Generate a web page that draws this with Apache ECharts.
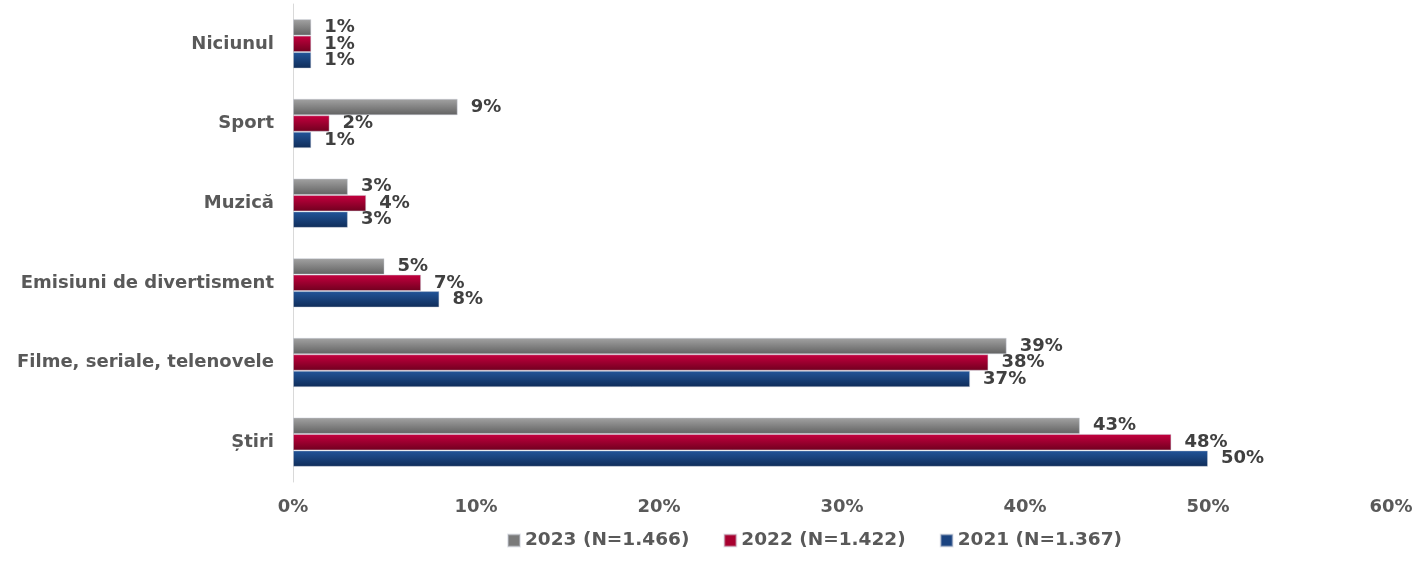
<!DOCTYPE html>
<html>
<head>
<meta charset="utf-8">
<script src="https://cdn.jsdelivr.net/npm/echarts@6/dist/echarts.min.js"></script>
<style>
  html, body { margin: 0; padding: 0; background: #fff; }
  #chart { width: 1419px; height: 576px; }
</style>
</head>
<body>
<div id="chart"></div>
<script>
// categories bottom -> top (category axis starts at the bottom)
const categories = ["Știri", "Filme, seriale, telenovele", "Emisiuni de divertisment", "Muzică", "Sport", "Niciunul"];
const seriesNames = ["2023 (N=1.466)", "2022 (N=1.422)", "2021 (N=1.367)"];
const values2023 = [43, 39, 5, 3, 9, 1];
const values2022 = [48, 38, 7, 4, 2, 1];
const values2021 = [50, 37, 8, 3, 1, 1];
const xTicks = [0, 10, 20, 30, 40, 50, 60];

const FONT = "DejaVu Sans";

function grad(top, bottom) {
    return new echarts.graphic.LinearGradient(0, 0, 0, 1, [
        { offset: 0, color: top },
        { offset: 1, color: bottom }
    ]);
}

const styles = [
    { fill: grad("#a3a3a3", "#616161"), legend: "#7a7a7a" },
    { fill: grad("#c6003f", "#70001f"), legend: "#a8002f" },
    { fill: grad("#22559a", "#0f2c58"), legend: "#1a4380" }
];

const allValues = [values2023, values2022, values2021];

function makeSeries(i) {
    return {
        name: seriesNames[i],
        type: "bar",
        data: allValues[i],
        barGap: "0%",
        barCategoryGap: "38%",
        itemStyle: {
            color: styles[i].fill,
            borderColor: "rgba(200,205,215,0.45)",
            borderWidth: 1
        },
        label: {
            show: true,
            position: "right",
            distance: 13,
            formatter: (p) => p.value + "%",
            fontFamily: FONT,
            fontWeight: "bold",
            fontSize: 18,
            color: "#404040"
        }
    };
}

// first series sits on top of each group
const series = [0, 1, 2].map(makeSeries);

const chart = echarts.init(document.getElementById("chart"), null, { renderer: "canvas" });
chart.setOption({
    animation: false,
    backgroundColor: "#ffffff",
    grid: { left: 293, right: 28, top: 4, bottom: 94, containLabel: false },
    legend: {
        data: seriesNames.map((n, i) => ({ name: n, itemStyle: { color: styles[i].legend } })),
        left: 502,
        top: 526,
        itemWidth: 12,
        itemHeight: 12,
        itemGap: 34,
        icon: "rect",
        textStyle: { fontFamily: FONT, fontWeight: "bold", fontSize: 18.5, color: "#595959" }
    },
    xAxis: {
        type: "value",
        min: xTicks[0],
        max: xTicks[xTicks.length - 1],
        interval: 10,
        axisLine: { show: false },
        axisTick: { show: false },
        splitLine: { show: false },
        axisLabel: {
            margin: 16,
            formatter: (v) => v + "%",
            fontFamily: FONT,
            fontWeight: "bold",
            fontSize: 18,
            color: "#595959"
        }
    },
    yAxis: {
        type: "category",
        data: categories,
        axisLine: { show: true, lineStyle: { color: "#d9d9d9", width: 1 } },
        axisTick: { show: false },
        axisLabel: {
            margin: 19,
            fontFamily: FONT,
            fontWeight: "bold",
            fontSize: 18,
            color: "#595959"
        }
    },
    series: series
});
</script>
</body>
</html>
